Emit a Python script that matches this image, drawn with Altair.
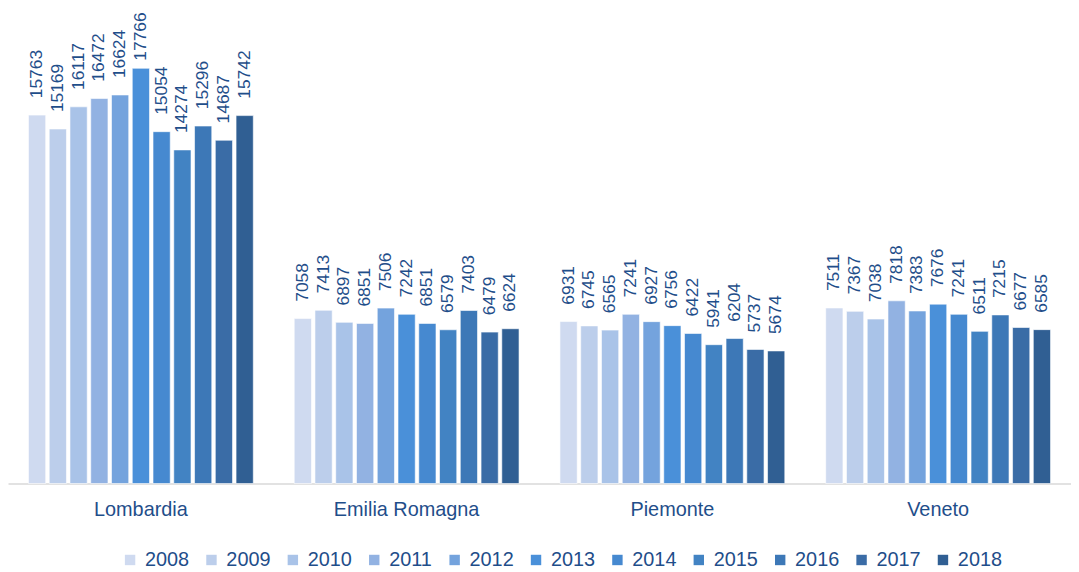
import altair as alt
import pandas as pd

regions = ["Lombardia", "Emilia Romagna", "Piemonte", "Veneto"]
years = ["2008", "2009", "2010", "2011", "2012", "2013", "2014", "2015", "2016", "2017", "2018"]
lombardia = [15763, 15169, 16117, 16472, 16624, 17766, 15054, 14274, 15296, 14687, 15742]
emilia = [7058, 7413, 6897, 6851, 7506, 7242, 6851, 6579, 7403, 6479, 6624]
piemonte = [6931, 6745, 6565, 7241, 6927, 6756, 6422, 5941, 6204, 5737, 5674]
veneto = [7511, 7367, 7038, 7818, 7383, 7676, 7241, 6511, 7215, 6677, 6585]
colors = ["#CFDAF0", "#BCCEEB", "#A9C3E8", "#92B2E2", "#74A3DD", "#4A90D9",
          "#4689D0", "#4283C3", "#3D78B7", "#3A6CA6", "#305F93"]

rows = []
for reg, vals in zip(regions, [lombardia, emilia, piemonte, veneto]):
    for y, v in zip(years, vals):
        rows.append({"region": reg, "year": y, "value": v})
df = pd.DataFrame(rows)

TEXT = "#1F4E8A"
FONT = "Liberation Sans"

x = alt.X("region:N", sort=regions, title=None,
          scale=alt.Scale(paddingInner=0.154, paddingOuter=0.077),
          axis=alt.Axis(labelAngle=0, labelFontSize=20, labelColor=TEXT, labelFont=FONT,
                        ticks=False, domainColor="#D9D9D9", domainWidth=1.5,
                        labelPadding=16))
xo = alt.XOffset("year:N", sort=years, scale=alt.Scale(paddingInner=0.17, paddingOuter=0.0))
yscale = alt.Scale(domain=[0, 20000], nice=False)

bars = alt.Chart(df).mark_bar(stroke="white", strokeWidth=0.6).encode(
    x=x, xOffset=xo, y=alt.Y("value:Q", scale=yscale, axis=None),
    color=alt.Color("year:N", sort=years, scale=alt.Scale(domain=years, range=colors),
                    legend=alt.Legend(title=None, orient="none", direction="horizontal",
                                      columns=11, legendX=113, legendY=538,
                                      symbolType="square", symbolSize=110,
                                      symbolStrokeWidth=0, labelFontSize=20,
                                      labelColor=TEXT, labelFont=FONT, labelOffset=5,
                                      columnPadding=12))
)

labels = alt.Chart(df).transform_calculate(
    ylab="min(datum.value + 722, 18093)"
).mark_text(angle=270, align="left", baseline="middle",
            fontSize=17.5, color=TEXT, font=FONT).encode(
    x=x, xOffset=xo, y=alt.Y("ylab:Q", scale=yscale, axis=None),
    text=alt.Text("value:Q", format="d")
)

chart = alt.layer(bars, labels).properties(
    width=1071, height=471,
    autosize=alt.AutoSizeParams(type="none"),
    padding={"left": 0, "top": 6, "right": 0, "bottom": 90},
).configure_view(stroke=None)

chart.save("out.html", embed_options={"renderer": "svg", "actions": False})
